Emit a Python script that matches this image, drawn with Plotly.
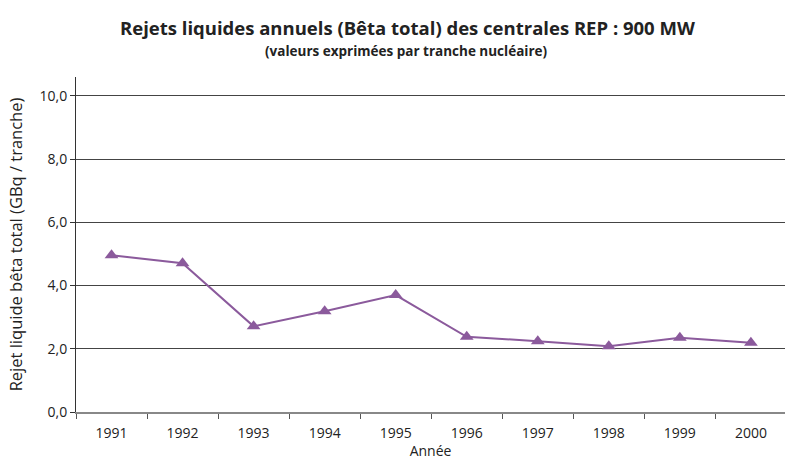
import plotly.graph_objects as go

years = ["1991", "1992", "1993", "1994", "1995", "1996", "1997", "1998", "1999", "2000"]
beta_total = [4.96, 4.71, 2.71, 3.19, 3.70, 2.38, 2.24, 2.08, 2.35, 2.19]
y_ticks = [0, 2, 4, 6, 8, 10]
y_tick_labels = ["0,0", "2,0", "4,0", "6,0", "8,0", "10,0"]

purple = "#8B5A9C"
font = "Open Sans"

W, H = 785, 460
ML, MR, MT, MB = 76, 0, 77, 48

fig = go.Figure()
fig.add_trace(go.Scatter(
    x=years, y=beta_total, mode="lines+markers",
    line=dict(color=purple, width=2),
    marker=dict(symbol="triangle-up", size=12, color=purple),
    showlegend=False, cliponaxis=False,
))

plot_w = W - ML - MR
plot_h = H - MT - MB

def px_x(x):
    return (x - ML) / plot_w

def px_y(y):
    return (H - MB - y) / plot_h

fig.update_layout(
    width=W, height=H,
    margin=dict(l=ML, r=MR, t=MT, b=MB, autoexpand=False),
    paper_bgcolor="white", plot_bgcolor="white",
    font=dict(family=font, size=14, color="#222222"),
    xaxis=dict(
        type="category", range=[-0.5, 9.48], automargin=False,
        tickson="boundaries", ticks="outside", ticklen=5, tickcolor="#555555", tickwidth=1,
        ticklabelstandoff=7,
        showline=True, linecolor="#888888", linewidth=2,
        showgrid=False, tickfont=dict(size=14, color="#222222"),
        title=dict(text="Année", font=dict(size=14, color="#222222"), standoff=5),
    ),
    yaxis=dict(
        range=[0, 10.6], tickvals=y_ticks, ticktext=y_tick_labels, automargin=False,
        ticks="outside", ticklen=5, tickcolor="#333333",
        showline=True, linecolor="#333333", linewidth=1,
        showgrid=True, gridcolor="#444444", gridwidth=1, zeroline=False,
        tickfont=dict(size=14, color="#222222"),
        title=dict(text="Rejet liquide bêta total (GBq / tranche)", font=dict(size=16.5, color="#222222"), standoff=12),
    ),
    annotations=[
        dict(text="<b>Rejets liquides annuels (Bêta total) des centrales REP : 900 MW</b>",
             x=px_x(407), y=px_y(28), xref="paper", yref="paper", showarrow=False,
             xanchor="center", yanchor="middle",
             font=dict(size=18.5, color="#222222", family=font)),
        dict(text="<b>(valeurs exprimées par tranche nucléaire)</b>",
             x=px_x(406), y=px_y(51), xref="paper", yref="paper", showarrow=False,
             xanchor="center", yanchor="middle",
             font=dict(size=13.5, color="#222222", family=font)),
    ],
)

fig.write_html("out.html", config={"displayModeBar": False},
               post_script="document.body.style.margin='0px';")
